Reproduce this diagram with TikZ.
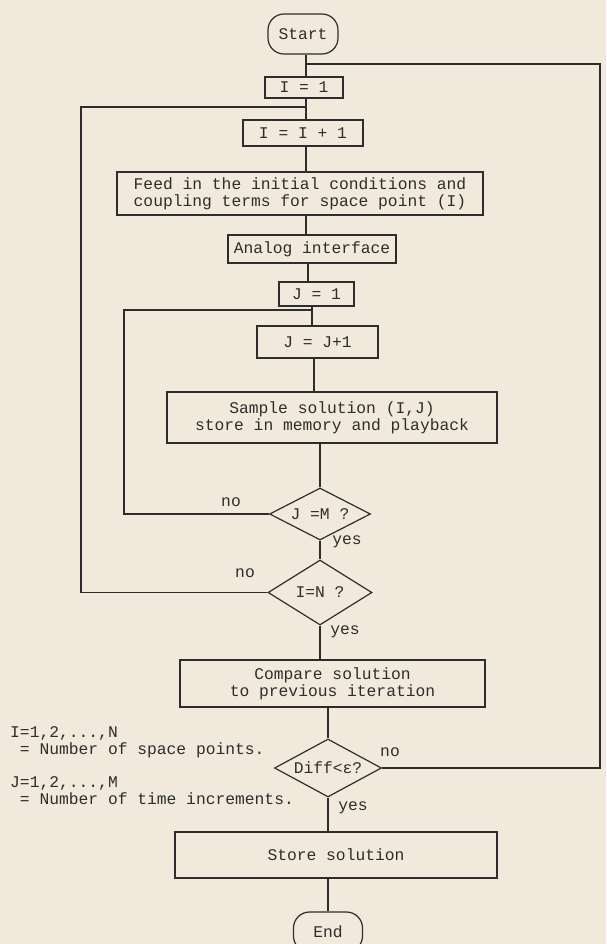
\documentclass[tikz,border=0pt]{standalone}
\usepackage{fontspec}
\setmainfont{Liberation Mono}
\usetikzlibrary{shapes.geometric}
\definecolor{paper}{RGB}{241,234,220}
\definecolor{ink}{RGB}{45,45,45}
\begin{document}
\begin{tikzpicture}[x=1pt,y=-1pt,
  every node/.style={font=\fontsize{16.3}{17}\selectfont, text=ink},
  box/.style={draw=ink, line width=1.2pt, inner sep=0pt, align=center},
  term/.style={box, rounded corners=16pt},
  dec/.style={draw=ink, line width=1.2pt, diamond, aspect=2, inner sep=0pt},
  link/.style={draw=ink, line width=1.2pt},
  lbl/.style={inner sep=0pt}
]
\fill[paper] (0,0) rectangle (606,944);
\useasboundingbox (0,0) rectangle (606,944);

\node[term, minimum width=70pt, minimum height=40pt] (start) at (303,34) {Start};
\node[box, minimum width=78pt, minimum height=21pt] (i1) at (304,87.5) {I = 1};
\node[box, minimum width=120pt, minimum height=26pt] (ii) at (303,133) {I = I + 1};
\node[box, minimum width=366pt, minimum height=43pt] (feed) at (300,193.5) {Feed in the initial conditions and\\coupling terms for space point (I)};
\node[box, minimum width=168pt, minimum height=28pt] (analog) at (312,249) {Analog interface};
\node[box, minimum width=75pt, minimum height=24pt] (j1) at (316.5,294) {J = 1};
\node[box, minimum width=121pt, minimum height=32pt] (jj) at (317.5,342) {J = J+1};
\node[box, minimum width=330pt, minimum height=51pt] (sample) at (332,417.5) {Sample solution (I,J)\\store in memory and playback};
\node[dec, minimum width=101pt, minimum height=52pt] (jm) at (320,514) {J =M ?};
\node[dec, minimum width=104pt, minimum height=65pt] (in) at (320,592.5) {I=N ?};
\node[box, minimum width=305pt, minimum height=47pt] (cmp) at (332.5,683.5) {Compare solution\\to previous iteration};
\node[dec, minimum width=107pt, minimum height=58pt] (diff) at (328,768) {Diff<ε?};
\node[box, minimum width=322pt, minimum height=46pt] (store) at (336,855) {Store solution};
\node[term, minimum width=69pt, minimum height=40pt] (end) at (328,932) {End};

% spine x positions
\coordinate (sa) at (306,0);
\coordinate (sb) at (308,0);
\coordinate (sc) at (312,0);
\coordinate (sd) at (314,0);
\coordinate (se) at (320,0);
\coordinate (sf) at (328,0);

\draw[link] (start.south -| sa) -- (i1.north -| sa);
\draw[link] (i1.south -| sa) -- (ii.north -| sa);
\draw[link] (ii.south -| sa) -- (feed.north -| sa);
\draw[link] (feed.south -| sa) -- (analog.north -| sa);
\draw[link] (analog.south -| sb) -- (j1.north -| sb);
\draw[link] (j1.south -| sc) -- (jj.north -| sc);
\draw[link] (jj.south -| sd) -- (sample.north -| sd);
\draw[link] (sample.south -| se) -- (jm.north);
\draw[link] (jm.south) -- (in.north);
\draw[link] (in.south) -- (cmp.north -| se);
\draw[link] (cmp.south -| sf) -- (diff.north);
\draw[link] (diff.south) -- (store.north -| sf);
\draw[link] (store.south -| sf) -- (end.north);

% loops
\coordinate (jcorner) at (124,310);
\draw[link] (jm.west) -| (jcorner) -- (jcorner -| sc);
\coordinate (icorner) at (81,107);
\draw[link] (in.west) -| (icorner) -- (icorner -| sa);
\coordinate (dcorner) at (600,64);
\draw[link] (diff.east) -| (dcorner) -- (dcorner -| sa);

% labels
\node[lbl] (noJ) at (231,502) {no};
\node[lbl] (yesJ) at (347,542) {yes};
\node[lbl] (noI) at (245,573) {no};
\node[lbl] (yesI) at (345,632) {yes};
\node[lbl] (noD) at (390,752) {no};
\node[lbl] (yesD) at (353,808) {yes};

% notes
\node[lbl, anchor=base west] (n1) at (10,737) {I=1,2,...,N};
\node[lbl, anchor=base west] (n2) at (10,754) {\ = Number of space points.};
\node[lbl, anchor=base west] (n3) at (10,787) {J=1,2,...,M};
\node[lbl, anchor=base west] (n4) at (10,804) {\ = Number of time increments.};
\end{tikzpicture}
\end{document}
